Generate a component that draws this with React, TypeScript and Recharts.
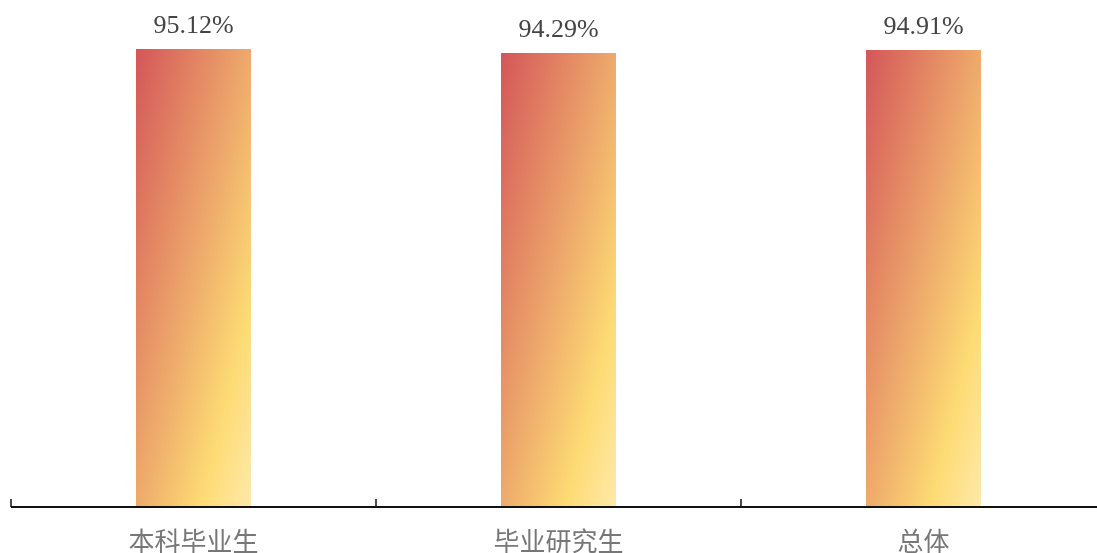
import React from 'react';
import { BarChart, Bar, XAxis, YAxis, LabelList } from 'recharts';

const categories = ['本科毕业生', '毕业研究生', '总体'];
const rates = [95.12, 94.29, 94.91];
const data = categories.map((name, i) => ({ name, rate: rates[i] }));

const BoundaryTick = (props: any) => {
  const { x, y, payload } = props;
  const off = payload && typeof payload.offset === 'number' ? payload.offset : 0;
  return (
    <g>
      <line x1={x - off} x2={x - off} y1={y} y2={y - 8} stroke="#111" strokeWidth={1.5} />
      <text
        x={x}
        y={y + 44}
        textAnchor="middle"
        fill="#777777"
        fontSize={26}
        fontFamily="'Noto Sans CJK SC', 'Noto Sans', sans-serif"
      >
        {payload.value}
      </text>
    </g>
  );
};

export default function App() {
  return (
    <div style={{ position: 'fixed', left: 8, top: 8, width: 1089, height: 545, overflow: 'hidden' }}>
      <BarChart
        width={1098}
        height={545}
        data={data}
        margin={{ top: 17.5, right: 0, bottom: 0, left: 3 }}
      >
        <defs>
          <linearGradient id="barGrad" x1="0" y1="0" x2="1" y2="1">
            <stop offset="0" stopColor="#d45659" />
            <stop offset="0.5" stopColor="#eeaa6b" />
            <stop offset="0.78" stopColor="#fddb74" />
            <stop offset="1" stopColor="#fee9aa" />
          </linearGradient>
        </defs>
        <XAxis
          dataKey="name"
          height={46}
          tickSize={0}
          tickMargin={0}
          tickLine={false}
          axisLine={{ stroke: '#111', strokeWidth: 2 }}
          tick={<BoundaryTick />}
          interval={0}
        />
        <YAxis hide domain={[0, 100]} />
        <Bar dataKey="rate" barSize={115} fill="url(#barGrad)" isAnimationActive={false}>
          <LabelList
            dataKey="rate"
            position="top"
            offset={16}
            formatter={(v: any) => `${Number(v).toFixed(2)}%`}
            fill="#444444"
            fontSize={26}
            fontFamily="'Liberation Serif', 'Times New Roman', serif"
          />
        </Bar>
      </BarChart>
    </div>
  );
}
